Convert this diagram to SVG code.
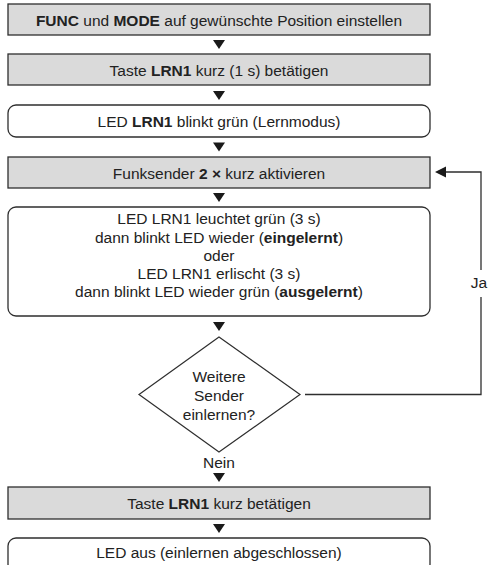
<svg xmlns="http://www.w3.org/2000/svg" width="488" height="565" viewBox="0 0 488 565">
  <style>
    .box { fill: #dadada; stroke: #2e2e2e; stroke-width: 1.3; }
    .rbox { fill: #ffffff; stroke: #2e2e2e; stroke-width: 1.3; }
    .dia { fill: #ffffff; stroke: #2e2e2e; stroke-width: 1.2; }
    .t { font-family: "Liberation Sans", Arial, Helvetica, sans-serif; font-size: 15.5px; fill: #222; text-anchor: middle; }
    .b { font-weight: bold; }
    .line { fill: none; stroke: #2e2e2e; stroke-width: 1.3; }
    .head { fill: #1a1a1a; }
  </style>
  <defs>
    <path id="tri" d="M-6,0 L6,0 L0,9 Z"/>
  </defs>

  <g id="n1">
    <rect class="box" x="8" y="4" width="422" height="31"/>
    <text class="t" x="219" y="26"><tspan class="b">FUNC</tspan> und <tspan class="b">MODE</tspan> auf gewünschte Position einstellen</text>
  </g>
  <g id="n2">
    <rect class="box" x="8" y="54" width="422" height="31"/>
    <text class="t" x="219" y="76">Taste <tspan class="b">LRN1</tspan> kurz (1 s) betätigen</text>
  </g>
  <g id="n3">
    <rect class="rbox" x="8" y="105" width="422" height="32" rx="8" ry="8"/>
    <text class="t" x="219" y="127">LED <tspan class="b">LRN1</tspan> blinkt grün (Lernmodus)</text>
  </g>
  <g id="n4">
    <rect class="box" x="8" y="157" width="422" height="31"/>
    <text class="t" x="219" y="179">Funksender <tspan class="b">2 ×</tspan> kurz aktivieren</text>
  </g>
  <g id="n5">
    <rect class="rbox" x="8" y="207" width="422" height="109" rx="8" ry="8"/>
    <text class="t" x="219" y="224">LED LRN1 leuchtet grün (3 s)</text>
    <text class="t" x="219" y="242.5">dann blinkt LED wieder (<tspan class="b">eingelernt</tspan>)</text>
    <text class="t" x="219" y="260.5">oder</text>
    <text class="t" x="219" y="279">LED LRN1 erlischt (3 s)</text>
    <text class="t" x="219" y="297">dann blinkt LED wieder grün (<tspan class="b">ausgelernt</tspan>)</text>
  </g>
  <g id="n6">
    <polygon class="dia" points="219,337 300,394.5 219,452 139,394.5"/>
    <text class="t" x="219" y="382">Weitere</text>
    <text class="t" x="219" y="401">Sender</text>
    <text class="t" x="219" y="420">einlernen?</text>
  </g>
  <g id="n7">
    <rect class="box" x="8" y="487" width="422" height="32"/>
    <text class="t" x="219" y="509">Taste <tspan class="b">LRN1</tspan> kurz betätigen</text>
  </g>
  <g id="n8">
    <rect class="rbox" x="8" y="538" width="422" height="34" rx="8" ry="8"/>
    <text class="t" x="219" y="558">LED aus (einlernen abgeschlossen)</text>
  </g>

  <g id="connectors">
    <use href="#tri" class="head" x="219" y="40"/>
    <use href="#tri" class="head" x="219" y="91"/>
    <use href="#tri" class="head" x="219" y="142.5"/>
    <use href="#tri" class="head" x="219" y="193"/>
    <use href="#tri" class="head" x="219" y="322"/>
    <text class="t" x="219" y="468">Nein</text>
    <use href="#tri" class="head" x="219" y="473"/>
    <use href="#tri" class="head" x="219" y="524"/>
    <path class="line" d="M305,394.5 H481 V297"/>
    <path class="line" d="M481,270 V172 H445"/>
    <polygon class="head" points="435,172 446,166.5 446,177.5"/>
    <text class="t" x="479" y="288">Ja</text>
  </g>
</svg>
